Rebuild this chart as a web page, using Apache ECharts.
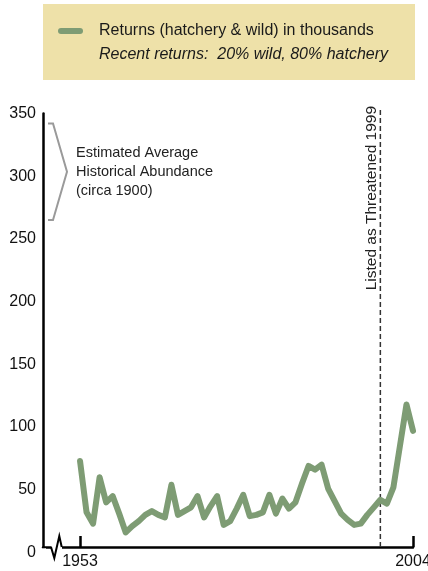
<!DOCTYPE html>
<html><head><meta charset="utf-8">
<script src="https://cdn.jsdelivr.net/npm/echarts@6/dist/echarts.min.js"></script>
<style>html,body{margin:0;padding:0;background:#fff;}#c{width:428px;height:571px;}</style>
</head><body><div id="c"></div>
<script>
// ---- data ----
const years = [1953,1954,1955,1956,1957,1958,1959,1960,1961,1962,1963,1964,1965,1966,1967,1968,1969,1970,1971,1972,
  1973,1974,1975,1976,1977,1978,1979,1980,1981,1982,1983,1984,1985,1986,1987,1988,1989,1990,1991,1992,
  1993,1994,1995,1996,1997,1998,1999,2000,2001,2002,2003,2004];
const returns = [73,32,23,60,40,45,31,16,21,25,30,33,30,28,54,30,33,36,45,28,
  37,45,22,25,35,46,29,30,32,46,31,43,35,40,55,69,66,70,51,41,
  31,26,22,23,30,36,42,39,52,85,118,97];
const yTicks = [0,50,100,150,200,250,300,350];
const xTickYears = [1953, 2004];
const listedYear = 1999;
const histLow = 265, histHigh = 342;
const legendTitle = 'Returns (hatchery & wild) in thousands';
const legendNote = 'Recent returns:  20% wild, 80% hatchery';
const histLabel = 'Estimated Average\nHistorical Abundance\n(circa 1900)';
const listedLabel = 'Listed as Threatened 1999';

// ---- chart ----
const FONT = '"Liberation Sans", Arial, Helvetica, sans-serif';
const GREEN = '#7E9C74';
const AXIS_SHIFT = 5.5;      // x axis line sits slightly above the 0 label
const X_MIN = 1947.33;
const chart = echarts.init(document.getElementById('c'), null, {renderer: 'canvas'});
chart.setOption({
  animation: false,
  grid: {left: 43, right: 15, top: 113.5, bottom: 18.5, containLabel: false, outerBoundsMode: 'none'},
  xAxis: {
    type: 'value', min: X_MIN, max: 2004, offset: -AXIS_SHIFT,
    axisLine: {show: true, onZero: false, lineStyle: {color: '#000', width: 2.5}},
    axisTick: {show: true, inside: true, length: 11, customValues: xTickYears, lineStyle: {color: '#000', width: 2.5}},
    axisLabel: {customValues: xTickYears, formatter: v => String(v), fontSize: 16, color: '#111', margin: 7, fontFamily: FONT},
    splitLine: {show: false}
  },
  yAxis: {
    type: 'value', min: 0, max: 350, interval: 50,
    axisLine: {show: true, lineStyle: {color: '#000', width: 2.5}},
    axisTick: {show: false},
    axisLabel: {customValues: yTicks, fontSize: 16, color: '#111', margin: 7, fontFamily: FONT},
    splitLine: {show: false}
  },
  series: [
    {
      type: 'line', name: legendTitle,
      data: years.map((y, i) => [y, returns[i]]),
      showSymbol: false, symbol: 'none',
      lineStyle: {color: GREEN, width: 6, cap: 'round', join: 'round'},
      itemStyle: {color: GREEN}, z: 3
    },
    {
      type: 'line', silent: true, clip: false, symbol: 'none',
      data: [[listedYear, 4.4], [listedYear, 355]],
      lineStyle: {color: '#333', width: 1.5, type: [5, 3]}, z: 2
    }
  ]
});

// ---- annotations ----
const p0 = chart.convertToPixel({gridIndex: 0}, [X_MIN, 0]);
const ox = p0[0];
const axisY = p0[1] - AXIS_SHIFT;
const yHi = chart.convertToPixel({gridIndex: 0}, [X_MIN, histHigh])[1];
const yLo = chart.convertToPixel({gridIndex: 0}, [X_MIN, histLow])[1];
const yMid = (yHi + yLo) / 2;
const pL = chart.convertToPixel({gridIndex: 0}, [listedYear, 209]);

chart.setOption({
  graphic: [
    {type: 'rect', shape: {x: 43, y: 4, width: 372, height: 76}, style: {fill: '#EEE1A9'}, z: 10},
    {type: 'line', shape: {x1: 61, y1: 31, x2: 80, y2: 31}, style: {stroke: GREEN, lineWidth: 6, lineCap: 'round'}, z: 11},
    {type: 'text', x: 99, y: 31, style: {text: legendTitle, font: '16px ' + FONT, fill: '#1a1a1a', textVerticalAlign: 'middle'}, z: 11},
    {type: 'text', x: 99, y: 55, style: {text: legendNote, font: 'italic 16px ' + FONT, fill: '#1a1a1a', textVerticalAlign: 'middle'}, z: 11},
    // axis break
    {type: 'rect', shape: {x: ox + 8.5, y: axisY - 2, width: 10.5, height: 4}, style: {fill: '#fff'}, z: 20},
    {type: 'rect', shape: {x: ox - 3, y: axisY + 1.3, width: 6, height: 8}, style: {fill: '#fff'}, z: 20},
    {type: 'polyline', shape: {points: [[ox + 8, axisY], [ox + 11.3, axisY + 11], [ox + 16.3, axisY - 11], [ox + 18.7, axisY]]},
      style: {stroke: '#000', lineWidth: 2, fill: null}, z: 21},
    // historical bracket
    {type: 'polyline', shape: {points: [[ox + 5, yHi], [ox + 10, yHi], [ox + 24, yMid], [ox + 10, yLo], [ox + 5, yLo]]},
      style: {stroke: '#9a9a9a', lineWidth: 2, fill: null}, z: 10},
    {type: 'text', x: ox + 33, y: yMid, style: {text: histLabel, font: '14.5px ' + FONT, lineHeight: 19, fill: '#222', textVerticalAlign: 'middle'}, z: 10},
    // listed label
    {type: 'text', x: pL[0] - 8.6, y: pL[1], rotation: Math.PI / 2,
      style: {text: listedLabel, font: '15.5px ' + FONT, fill: '#222', textAlign: 'left', textVerticalAlign: 'middle'}, z: 10}
  ]
});
</script>
</body></html>
